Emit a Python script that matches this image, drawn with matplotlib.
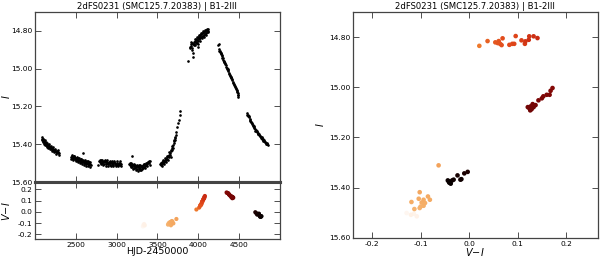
import matplotlib
matplotlib.use('Agg')
import matplotlib.pyplot as plt
from matplotlib.colors import LinearSegmentedColormap
from matplotlib.ticker import FormatStrFormatter, MultipleLocator, FixedLocator

plt.rcParams['axes.unicode_minus'] = False
plt.rcParams['font.family'] = 'DejaVu Sans'

title = '2dFS0231 (SMC125.7.20383) | B1-2III'
hjd_ticks = [2500, 3000, 3500, 4000, 4500]

# I-band light curve, one pair of lists per observing season
hjd_s1 = [2088, 2092, 2097, 2101, 2106, 2110, 2114, 2119, 2123, 2127, 2131, 2136, 2140, 2145,
          2150, 2155, 2160, 2166, 2171, 2177, 2183, 2189, 2195, 2201, 2207, 2213, 2219, 2226,
          2232, 2238, 2244, 2251, 2258, 2265, 2272, 2279, 2286, 2293,
          2090, 2095, 2104, 2112, 2117, 2125, 2134, 2143, 2152, 2163, 2174, 2186, 2198, 2210,
          2222, 2235, 2248, 2262, 2276, 2290]
mag_s1 = [15.372, 15.378, 15.375, 15.384, 15.381, 15.389, 15.386, 15.393, 15.398, 15.391,
          15.401, 15.397, 15.405, 15.402, 15.409, 15.404, 15.412, 15.408, 15.416, 15.411,
          15.419, 15.414, 15.423, 15.418, 15.421, 15.427, 15.424, 15.431, 15.428, 15.435,
          15.432, 15.437, 15.441, 15.436, 15.443, 15.439, 15.447, 15.444,
          15.362, 15.386, 15.372, 15.398, 15.380, 15.406, 15.389, 15.414, 15.396, 15.421,
          15.401, 15.427, 15.409, 15.435, 15.416, 15.442, 15.425, 15.450, 15.432, 15.455]

hjd_s2 = [2442, 2448, 2455, 2461, 2468, 2474, 2481, 2487, 2494, 2500, 2507, 2513, 2520, 2526,
          2533, 2539, 2546, 2552, 2559, 2565, 2572, 2578, 2585, 2592, 2598, 2605, 2611, 2618,
          2624, 2631, 2637, 2644, 2650, 2657, 2663, 2670, 2676, 2684,
          2445, 2458, 2471, 2484, 2497, 2510, 2523, 2536, 2549, 2562, 2575, 2588, 2601, 2614,
          2627, 2640, 2653, 2666, 2680]
mag_s2 = [15.468, 15.462, 15.473, 15.466, 15.476, 15.470, 15.465, 15.479, 15.472, 15.482,
          15.475, 15.486, 15.478, 15.471, 15.488, 15.481, 15.491, 15.484, 15.477, 15.493,
          15.487, 15.496, 15.489, 15.449, 15.498, 15.492, 15.485, 15.501, 15.494, 15.504,
          15.497, 15.490, 15.506, 15.499, 15.508, 15.495, 15.503, 15.511,
          15.478, 15.458, 15.483, 15.462, 15.490, 15.468, 15.494, 15.473, 15.499, 15.480,
          15.505, 15.482, 15.509, 15.487, 15.513, 15.490, 15.516, 15.494, 15.518]

hjd_s3 = [2776, 2790, 2798, 2805, 2812, 2820, 2827, 2835, 2842, 2850, 2857, 2865, 2872, 2880,
          2887, 2895, 2902, 2910, 2917, 2925, 2932, 2940, 2947, 2955, 2962, 2970, 2977, 2985,
          2992, 3000, 3008, 3016, 3024, 3032, 3040, 3048, 3056, 3185,
          2794, 2809, 2824, 2839, 2854, 2869, 2884, 2899, 2914, 2929, 2944, 2959, 2974, 2989,
          3004, 3020, 3036, 3052]
mag_s3 = [15.508, 15.489, 15.494, 15.486, 15.498, 15.491, 15.501, 15.493, 15.488, 15.503,
          15.496, 15.490, 15.505, 15.497, 15.492, 15.507, 15.499, 15.494, 15.509, 15.501,
          15.495, 15.504, 15.498, 15.510, 15.502, 15.496, 15.506, 15.500, 15.511, 15.503,
          15.497, 15.508, 15.501, 15.506, 15.499, 15.510, 15.504, 15.463,
          15.481, 15.507, 15.484, 15.510, 15.486, 15.513, 15.485, 15.514, 15.488, 15.515,
          15.489, 15.516, 15.490, 15.517, 15.491, 15.516, 15.490, 15.517]

hjd_s4 = [3158, 3165, 3172, 3180, 3187, 3194, 3201, 3208, 3215, 3222, 3229, 3236, 3243, 3250,
          3257, 3264, 3271, 3278, 3285, 3292, 3299, 3306, 3313, 3320, 3327, 3334, 3341, 3348,
          3355, 3362, 3369, 3376, 3384, 3392, 3400, 3408,
          3162, 3176, 3190, 3204, 3218, 3232, 3246, 3260, 3274, 3288, 3302, 3316, 3330, 3344,
          3358, 3372, 3388, 3404]
mag_s4 = [15.505, 15.512, 15.501, 15.515, 15.508, 15.519, 15.511, 15.524, 15.516, 15.509,
          15.528, 15.520, 15.513, 15.533, 15.522, 15.516, 15.530, 15.518, 15.526, 15.512,
          15.535, 15.521, 15.515, 15.527, 15.510, 15.519, 15.506, 15.514, 15.503, 15.511,
          15.499, 15.507, 15.496, 15.502, 15.490, 15.487,
          15.498, 15.522, 15.503, 15.531, 15.507, 15.538, 15.512, 15.541, 15.510, 15.537,
          15.514, 15.532, 15.503, 15.524, 15.497, 15.516, 15.492, 15.508]

hjd_s5 = [3536, 3542, 3549, 3555, 3562, 3569, 3575, 3582, 3589, 3596, 3603, 3610, 3617, 3624,
          3631, 3638, 3645, 3651, 3658, 3665, 3671, 3678, 3685, 3692, 3699, 3705, 3712, 3718,
          3724, 3731, 3741, 3752, 3763, 3772, 3777,
          3539, 3552, 3566, 3579, 3593, 3607, 3621, 3635, 3648, 3662, 3675, 3689, 3702, 3715]
mag_s5 = [15.506, 15.511, 15.498, 15.504, 15.492, 15.500, 15.487, 15.495, 15.483, 15.490,
          15.476, 15.484, 15.470, 15.478, 15.462, 15.470, 15.455, 15.448, 15.457, 15.438,
          15.428, 15.433, 15.412, 15.404, 15.396, 15.380, 15.369, 15.362, 15.351, 15.336,
          15.307, 15.289, 15.271, 15.245, 15.222,
          15.497, 15.515, 15.483, 15.503, 15.474, 15.493, 15.463, 15.482, 15.440, 15.466,
          15.418, 15.422, 15.385, 15.378]

hjd_s6 = [3871, 3899, 3907, 3915, 3920, 3928, 3935, 3939, 3944, 3950, 3956, 3962, 3968, 3974,
          3980, 3986, 3992, 3998, 4004, 4010, 4016, 4022, 4028, 4034, 4040, 4046, 4052, 4058,
          4064, 4070, 4076, 4082, 4088, 4094, 4100, 4106, 4112, 4118, 4124,
          3903, 3911, 3925, 3932, 3947, 3959, 3971, 3983, 3995, 4000, 4007, 4019, 4031, 4043,
          4055, 4067, 4079, 4091, 4103, 4115]
mag_s6 = [14.959, 14.884, 14.872, 14.878, 14.901, 14.866, 14.871, 14.937, 14.860, 14.868,
          14.852, 14.874, 14.857, 14.843, 14.862, 14.848, 14.838, 14.855, 14.833, 14.845,
          14.827, 14.840, 14.822, 14.835, 14.818, 14.829, 14.814, 14.826, 14.810, 14.821,
          14.806, 14.815, 14.802, 14.810, 14.797, 14.804, 14.793, 14.799, 14.790,
          14.893, 14.858, 14.889, 14.915, 14.876, 14.842, 14.866, 14.835, 14.868, 14.884,
          14.824, 14.852, 14.812, 14.838, 14.803, 14.830, 14.797, 14.820, 14.788, 14.808]

hjd_s7 = [4244, 4256, 4262, 4268, 4274, 4280, 4286, 4292, 4298, 4304, 4310, 4316, 4322, 4328,
          4334, 4340, 4346, 4352, 4358, 4364, 4370, 4376, 4382, 4388, 4394, 4400, 4406, 4412,
          4418, 4424, 4430, 4438, 4446, 4454, 4462, 4470, 4478, 4486, 4492,
          4250, 4259, 4283, 4319, 4361, 4397, 4433, 4458, 4474, 4482, 4490]
mag_s7 = [14.875, 14.898, 14.906, 14.912, 14.915, 14.922, 14.930, 14.934, 14.942, 14.946,
          14.953, 14.958, 14.966, 14.970, 14.977, 14.983, 14.989, 14.995, 15.002, 15.008,
          15.013, 15.021, 15.026, 15.033, 15.039, 15.045, 15.050, 15.057, 15.062, 15.070,
          15.075, 15.084, 15.092, 15.097, 15.105, 15.112, 15.124, 15.131, 15.142,
          14.870, 14.909, 14.919, 14.965, 15.000, 15.046, 15.082, 15.110, 15.117, 15.140, 15.150]

hjd_s8 = [4598, 4606, 4614, 4622, 4630, 4640, 4648, 4656, 4664, 4672, 4680, 4688, 4696, 4704,
          4712, 4720, 4728, 4736, 4744, 4752, 4760, 4768, 4776, 4784, 4792, 4800, 4808, 4816,
          4824, 4832, 4840, 4848, 4853,
          4602, 4618, 4635, 4652, 4668, 4684, 4700, 4716, 4732, 4748, 4764, 4780, 4796, 4812,
          4828, 4844]
mag_s8 = [15.236, 15.243, 15.251, 15.258, 15.264, 15.272, 15.281, 15.287, 15.294, 15.300,
          15.308, 15.313, 15.320, 15.325, 15.330, 15.336, 15.340, 15.346, 15.350, 15.354,
          15.359, 15.362, 15.367, 15.370, 15.375, 15.378, 15.383, 15.386, 15.390, 15.394,
          15.397, 15.401, 15.404,
          15.248, 15.250, 15.275, 15.280, 15.302, 15.305, 15.328, 15.328, 15.348, 15.346,
          15.368, 15.362, 15.383, 15.380, 15.398, 15.395]

# epochs with colour: HJD, V-I and I
hjd_c = [3322, 3330, 3338, 3345,
         3630, 3638, 3645, 3650, 3658, 3662, 3666, 3672, 3676, 3680, 3684, 3696, 3733,
         3978, 4012, 4025, 4030, 4033, 4036, 4040, 4028, 4045, 4048, 4050, 4055, 4060, 4066,
         4068, 4072, 4074, 4078, 4082,
         4348, 4355, 4368, 4372, 4378, 4385, 4392, 4410, 4418, 4425, 4430, 4422, 4419, 4415, 4405,
         4700, 4710, 4722, 4740, 4745, 4755, 4765, 4768, 4760, 4775, 4772, 4750]
vi_c = [-0.129, -0.114, -0.108, -0.120,
        -0.113, -0.102, -0.100, -0.094, -0.091, -0.098, -0.119, -0.094, -0.081, -0.104, -0.085,
        -0.102, -0.063,
        0.021, 0.038, 0.054, 0.061, 0.064, 0.067, 0.069, 0.059, 0.083, 0.089, 0.093, 0.096,
        0.108, 0.115, 0.116, 0.124, 0.123, 0.133, 0.141,
        0.172, 0.168, 0.166, 0.160, 0.153, 0.150, 0.143, 0.137, 0.133, 0.129, 0.126, 0.124,
        0.121, 0.127, 0.131,
        -0.003, -0.010, -0.024, -0.018, -0.016, -0.035, -0.039, -0.042, -0.044, -0.038, -0.041,
        -0.032]
mag_c = [15.501, 15.504, 15.514, 15.508,
         15.485, 15.481, 15.475, 15.472, 15.461, 15.459, 15.457, 15.448, 15.448, 15.444, 15.435,
         15.418, 15.311,
         14.835, 14.816, 14.821, 14.816, 14.827, 14.832, 14.805, 14.824, 14.831, 14.827, 14.827,
         14.796, 14.813, 14.827, 14.817, 14.797, 14.811, 14.797, 14.804,
         15.003, 15.014, 15.030, 15.030, 15.036, 15.044, 15.052, 15.071, 15.079, 15.087, 15.092,
         15.083, 15.079, 15.076, 15.067,
         15.337, 15.343, 15.351, 15.368, 15.366, 15.371, 15.378, 15.375, 15.371, 15.384, 15.380,
         15.368]

hjd_all = hjd_s1 + hjd_s2 + hjd_s3 + hjd_s4 + hjd_s5 + hjd_s6 + hjd_s7 + hjd_s8
mag_all = mag_s1 + mag_s2 + mag_s3 + mag_s4 + mag_s5 + mag_s6 + mag_s7 + mag_s8

cmap = LinearSegmentedColormap.from_list('heat', [
    (0.0, '#fffaf7'), (0.23, '#f5b06a'), (0.45, '#ee7a2c'), (0.5, '#e0461a'),
    (0.53, '#c0200f'), (0.73, '#7a0505'), (1.0, '#000000')])
vmin, vmax = 3300, 4800

fig = plt.figure(figsize=(6, 2.6), dpi=100)
fig.patch.set_facecolor('white')
ax1 = fig.add_axes([0.0583, 0.30, 0.408, 0.654])
ax2 = fig.add_axes([0.0583, 0.081, 0.408, 0.219])
ax3 = fig.add_axes([0.588, 0.085, 0.408, 0.869])

def style(ax):
    ax.tick_params(direction='in', top=True, right=True, length=4, width=0.6,
                   labelsize=5.4, pad=2, color='#333333')
    for s in ax.spines.values():
        s.set_color('#444444')
        s.set_linewidth(0.9)

# light curve
ax1.plot(hjd_all, mag_all, '.', color='black', markersize=1.8)
ax1.set_xlim(2000, 5000)
ax1.set_ylim(15.6, 14.7)
ax1.xaxis.set_major_locator(FixedLocator(hjd_ticks))
ax1.yaxis.set_major_locator(MultipleLocator(0.2))
ax1.yaxis.set_major_formatter(FormatStrFormatter('%.2f'))
ax1.set_xticklabels([])
ax1.set_ylabel('$I$', fontsize=7)
ax1.yaxis.set_label_coords(-0.092, 0.5)
ax1.set_title(title, fontsize=6.1, pad=2)
style(ax1)
ax1.spines['bottom'].set_linewidth(2.2)

# colour curve
ax2.scatter(hjd_c, vi_c, c=hjd_c, cmap=cmap, vmin=vmin, vmax=vmax, s=9, edgecolors='none')
ax2.set_xlim(2000, 5000)
ax2.set_ylim(-0.24, 0.265)
ax2.xaxis.set_major_locator(FixedLocator(hjd_ticks))
ax2.yaxis.set_major_locator(MultipleLocator(0.1))
ax2.yaxis.set_major_formatter(FormatStrFormatter('%.1f'))
ax2.set_xlabel('HJD-2450000', fontsize=6.8)
ax2.xaxis.set_label_coords(0.5, -0.15)
ax2.set_ylabel('$V\\!-\\!I$', fontsize=7)
ax2.yaxis.set_label_coords(-0.092, 0.5)
style(ax2)
ax2.spines['top'].set_linewidth(2.2)

# colour-magnitude diagram
ax3.scatter(vi_c, mag_c, c=hjd_c, cmap=cmap, vmin=vmin, vmax=vmax, s=11, edgecolors='none')
ax3.set_xlim(-0.24, 0.265)
ax3.set_ylim(15.6, 14.7)
ax3.xaxis.set_major_locator(MultipleLocator(0.1))
ax3.yaxis.set_major_locator(MultipleLocator(0.2))
ax3.yaxis.set_major_formatter(FormatStrFormatter('%.2f'))
ax3.xaxis.set_major_formatter(FormatStrFormatter('%.1f'))
ax3.set_xlabel('$V\\!-\\!I$', fontsize=7)
ax3.xaxis.set_label_coords(0.5, -0.035)
ax3.set_ylabel('$I$', fontsize=7)
ax3.yaxis.set_label_coords(-0.11, 0.5)
ax3.set_title(title, fontsize=6.1, pad=2)
style(ax3)

fig.savefig('out.png', dpi=100, facecolor='white')
